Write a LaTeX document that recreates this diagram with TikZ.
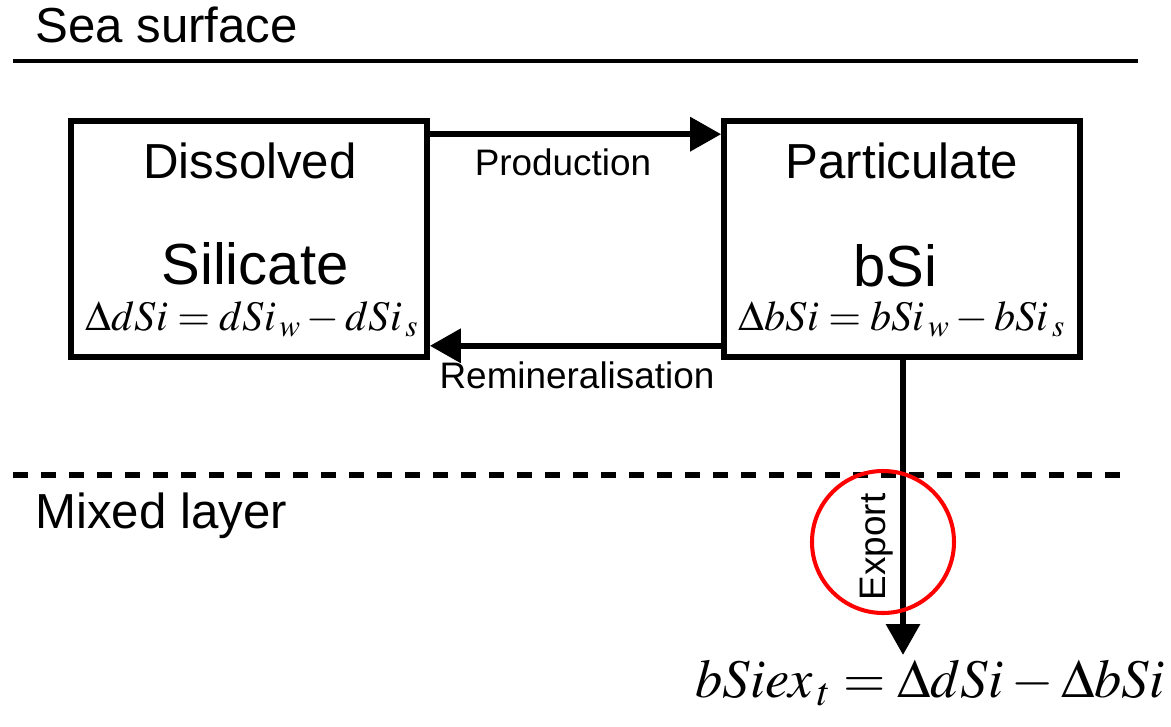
\documentclass[tikz,border=0pt]{standalone}
\usepackage{mathptmx}
\usepackage[no-math]{fontspec}
\setsansfont{Liberation Sans}
\usetikzlibrary{arrows.meta,calc}
\tikzset{
  pool/.style={draw, line width=3.2pt, minimum width=356*0.02cm, minimum height=236*0.02cm, inner sep=0pt},
  flow/.style={line width=3.6pt, -{Triangle[length=0.62cm,width=0.66cm]}},
  lbl/.style={font=\sffamily\fontsize{21}{21}\selectfont, inner sep=0pt},
  head/.style={font=\sffamily\fontsize{28}{28}\selectfont, inner sep=0pt},
  big/.style={font=\sffamily\fontsize{33}{33}\selectfont, inner sep=0pt},
  eq/.style={font=\fontsize{24}{24}\selectfont, inner sep=0pt}
}
\begin{document}
\begin{tikzpicture}[x=0.02cm, y=-0.02cm]
      \useasboundingbox (0,0) rectangle (1171,727);
      % Layers
      \draw[line width=2.3pt] (13,61) -- (1138,61);
      \draw[line width=3.2pt, dash pattern=on 15*0.02cm off 13*0.02cm] (13,475) -- (1130,475);
      \node[head, anchor=base west] (sea) at (35,42) {Sea surface};
      \node[head, anchor=base west] (mix) at (35,528) {Mixed layer};

      % Pools
      \node[pool] (dis) at (249,239) {};
      \node[pool] (par) at (902,239) {};
      \node[head, anchor=base] (dist) at (250,178) {Dissolved};
      \node[big, anchor=base] (sil) at (255,284) {Silicate};
      \node[eq, anchor=base] (dse) at (252,330) {$\Delta dSi = dSi_{\,w} - dSi_{\,s}$};
      \node[head, anchor=base] (part) at (902,178) {Particulate};
      \node[big, anchor=base] (bsi) at (895,286) {bSi};
      \node[eq, anchor=base] (bse) at (902,330) {$\Delta bSi = bSi_{\,w} - bSi_{\,s}$};

      % Fluxes
      \draw[flow] ($(dis.north east)+(0,16)$) -- ($(par.north west)+(0,16)$);
      \node[lbl, anchor=base] (prod) at (563,175) {Production};
      \draw[flow] ($(par.south west)+(0,-14)$) -- ($(dis.south east)+(0,-14)$);
      \node[lbl, anchor=base] (remin) at (577,388) {Remineralisation};
      \coordinate (tip) at (903,655);
      \draw[flow] (par.south -| tip) -- (tip);
      \node[lbl, rotate=90, anchor=base] (exp) at (885,547) {Export};
      \node[draw=red, line width=2.3pt, circle, minimum size=142*0.02cm] (ring) at (883,542) {};

      % Export balance
      \node[eq, font=\fontsize{31}{31}\selectfont, anchor=base] (bal) at (930,697) {$bSiex_{\,t} = \Delta dSi - \Delta bSi$};
    \end{tikzpicture}
\end{document}
